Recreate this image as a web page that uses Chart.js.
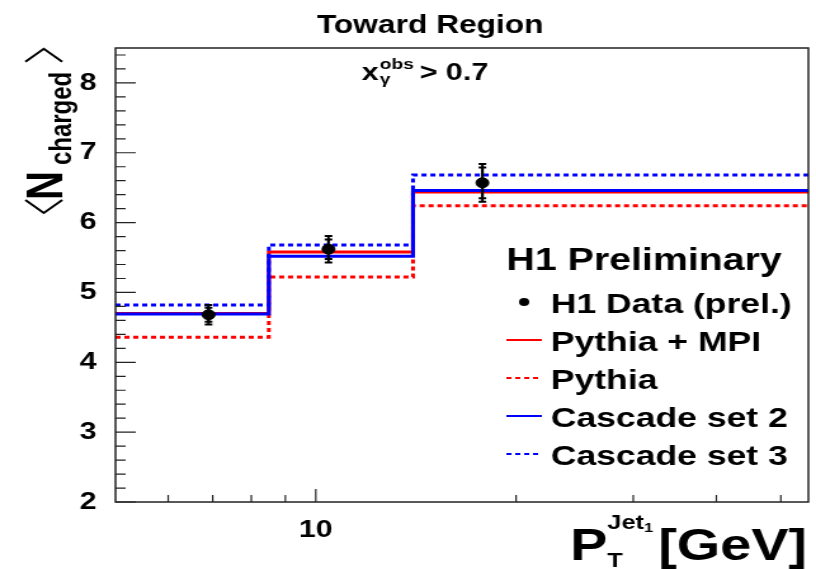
<!DOCTYPE html>
<html>
<head>
<meta charset="utf-8">
<script src="https://cdn.jsdelivr.net/npm/chart.js@4.4.0/dist/chart.umd.min.js"></script>
<style>
  html, body { margin: 0; padding: 0; background: #fff; overflow: hidden; }
  #plot { display: block; }
</style>
</head>
<body>
<!-- the original picture is stretched sideways, so the canvas is drawn narrow and widened by css -->
<canvas id="plot" width="643" height="569" style="width:816px;height:569px"></canvas>
<script>
// Toward Region, x_gamma^obs > 0.7
const binEdges = [5, 8.5, 14, 55];           // P_T^Jet1 bins [GeV]
const dataX = [6.9, 10.45, 17.8];            // mean P_T in bin
const dataY = [4.68, 5.62, 6.57];            // H1 data (prel.)
const statErr = [0.10, 0.14, 0.22];
const totErr = [0.14, 0.19, 0.27];
const pythiaMpi = [4.70, 5.58, 6.44];
const pythia = [4.36, 5.22, 6.24];
const cascade2 = [4.69, 5.52, 6.46];
const cascade3 = [4.82, 5.68, 6.68];

const yTicks = [2, 3, 4, 5, 6, 7, 8];
const xTicks = [6, 7, 8, 9, 10, 20, 30, 40, 50];
const xTickLabels = ['', '', '', '', '10', '', '', '', ''];

const legendLabels = ['H1 Data (prel.)', 'Pythia + MPI', 'Pythia', 'Cascade set 2', 'Cascade set 3'];

const RED = '#ff0000';
const BLUE = '#0000ff';
const FONT = '"Liberation Sans", Arial, Helvetica, sans-serif';
const font = size => `bold ${size}px ${FONT}`;

// histogram -> points at bin edges, last value repeated at the upper edge
function histPoints(values) {
  const pts = values.map((v, i) => ({ x: binEdges[i], y: v }));
  pts.push({ x: binEdges[binEdges.length - 1], y: values[values.length - 1] });
  return pts;
}

function histSet(label, values, color, dashed, order) {
  return {
    label: label,
    data: histPoints(values),
    borderColor: color,
    borderWidth: 3,
    borderDash: dashed ? [4, 3] : [],
    stepped: true,
    pointRadius: 0,
    fill: false,
    order: order
  };
}

const rootStyle = {
  id: 'rootStyle',
  afterDatasetsDraw(chart) {
    const { ctx, scales: { x, y } } = chart;
    ctx.save();
    ctx.strokeStyle = '#000';
    ctx.lineWidth = 2;
    dataX.forEach((xv, i) => {
      const px = x.getPixelForValue(xv);
      [totErr[i], statErr[i]].forEach(e => {
        const top = y.getPixelForValue(dataY[i] + e);
        const bot = y.getPixelForValue(dataY[i] - e);
        ctx.beginPath();
        ctx.moveTo(px, top); ctx.lineTo(px, bot);
        ctx.moveTo(px - 3, top); ctx.lineTo(px + 3, top);
        ctx.moveTo(px - 3, bot); ctx.lineTo(px + 3, bot);
        ctx.stroke();
      });
    });
    ctx.restore();
  },
  afterDraw(chart) {
    const { ctx, chartArea: a, scales: { x, y } } = chart;
    ctx.save();

    // frame
    ctx.strokeStyle = '#222';
    ctx.lineWidth = 1.5;
    ctx.strokeRect(a.left, a.top, a.right - a.left, a.bottom - a.top);

    // inward ticks, y
    ctx.lineWidth = 1.2;
    ctx.beginPath();
    for (let v = 2; v <= 8.5 + 1e-9; v += 0.2) {
      const py = y.getPixelForValue(v);
      const major = Math.abs(v - Math.round(v)) < 1e-6;
      ctx.moveTo(a.left, py);
      ctx.lineTo(a.left + (major ? 16 : 8), py);
    }
    // inward ticks, x
    xTicks.forEach(v => {
      const px = x.getPixelForValue(v);
      ctx.moveTo(px, a.bottom);
      ctx.lineTo(px, a.bottom - (v === 10 ? 13 : 7));
    });
    ctx.stroke();

    ctx.fillStyle = '#000';
    ctx.textBaseline = 'alphabetic';

    // title
    ctx.font = font(25);
    ctx.textAlign = 'center';
    ctx.fillText('Toward Region', 339, 33);
    ctx.textAlign = 'left';

    // x_gamma^obs > 0.7
    let sx = 285;
    ctx.font = font(24);
    ctx.fillText('x', sx, 80);
    sx += ctx.measureText('x').width + 1;
    ctx.font = font(15);
    ctx.fillText('obs', sx, 69);
    ctx.fillText('\u03b3', sx, 84);
    sx += ctx.measureText('obs').width;
    ctx.font = font(24);
    ctx.fillText(' > 0.7', sx - 2, 80);

    // y title  <N_charged>
    ctx.save();
    ctx.translate(49, 215);
    ctx.rotate(-Math.PI / 2);
    ctx.lineWidth = 2;
    ctx.strokeStyle = '#000';
    ctx.beginPath();
    ctx.moveTo(15, -29); ctx.lineTo(2, -14.5); ctx.lineTo(15, 0);
    ctx.stroke();
    ctx.font = font(40);
    ctx.fillText('N', 15, 0);
    const wN = ctx.measureText('N').width;
    ctx.font = font(24);
    ctx.fillText('charged', 15 + wN + 6, 7);
    const xe = 15 + wN + 6 + ctx.measureText('charged').width + 10;
    ctx.beginPath();
    ctx.moveTo(xe, -29); ctx.lineTo(xe + 13, -14.5); ctx.lineTo(xe, 0);
    ctx.stroke();
    ctx.restore();

    // x title  P_T^{Jet_1} [GeV]
    ctx.font = font(44);
    const wP = ctx.measureText('P').width;
    const wRest = ctx.measureText('[GeV]').width;
    ctx.font = font(20);
    const wT = ctx.measureText('T').width;
    const wJet = ctx.measureText('Jet').width;
    ctx.font = font(13);
    const w1 = ctx.measureText('1').width;
    const wScr = Math.max(wT, wJet + w1) + 4;
    const x0 = 636 - (wP + wScr + wRest);
    const base = 560;
    ctx.font = font(44);
    ctx.fillText('P', x0, base);
    ctx.fillText('[GeV]', x0 + wP + wScr, base);
    ctx.font = font(20);
    ctx.fillText('T', x0 + wP, base + 7);
    ctx.fillText('Jet', x0 + wP, base - 31);
    ctx.font = font(13);
    ctx.fillText('1', x0 + wP + wJet, base - 28);

    // legend
    ctx.font = font(31);
    ctx.fillText('H1 Preliminary', 399, 270);
    const styles = [null, [RED, []], [RED, [4, 3]], [BLUE, []], [BLUE, [4, 3]]];
    legendLabels.forEach((lab, i) => {
      const base = 313 + 38 * i;
      const ly = base - 11;
      if (styles[i] === null) {
        ctx.beginPath();
        ctx.arc(413, ly, 4, 0, Math.PI * 2);
        ctx.fill();
      } else {
        ctx.strokeStyle = styles[i][0];
        ctx.setLineDash(styles[i][1]);
        ctx.lineWidth = 2;
        ctx.beginPath();
        ctx.moveTo(399, ly); ctx.lineTo(427, ly);
        ctx.stroke();
        ctx.setLineDash([]);
      }
      ctx.font = font(28);
      ctx.fillText(lab, 434, base);
    });

    ctx.restore();
  }
};

new Chart(document.getElementById('plot'), {
  type: 'line',
  data: {
    datasets: [
      {
        label: legendLabels[0],
        data: dataX.map((v, i) => ({ x: v, y: dataY[i] })),
        showLine: false,
        pointRadius: 5,
        pointBackgroundColor: '#000',
        pointBorderColor: '#000',
        order: 0
      },
      histSet(legendLabels[3], cascade2, BLUE, false, 1),
      histSet(legendLabels[4], cascade3, BLUE, true, 2),
      histSet(legendLabels[1], pythiaMpi, RED, false, 3),
      histSet(legendLabels[2], pythia, RED, true, 4)
    ]
  },
  options: {
    responsive: false,
    devicePixelRatio: 1,
    animation: false,
    layout: { padding: { top: 48, right: 4, left: 0, bottom: 0 } },
    plugins: {
      legend: { display: false },
      tooltip: { enabled: false }
    },
    scales: {
      x: {
        type: 'logarithmic',
        min: 5,
        max: 55,
        grid: { display: false },
        border: { display: false },
        afterBuildTicks: s => { s.ticks = xTicks.map(v => ({ value: v })); },
        afterFit: s => { s.height = 67; },
        ticks: {
          autoSkip: false,
          maxRotation: 0,
          padding: 6,
          color: '#000',
          font: { family: FONT, size: 24, weight: 'bold' },
          callback: (v, i) => xTickLabels[i]
        }
      },
      y: {
        min: 2,
        max: 8.5,
        grid: { display: false },
        border: { display: false },
        afterBuildTicks: s => { s.ticks = yTicks.map(v => ({ value: v })); },
        afterFit: s => { s.width = 91; },
        ticks: {
          padding: 7,
          color: '#000',
          font: { family: FONT, size: 24, weight: 'bold' },
          callback: v => String(v)
        }
      }
    }
  },
  plugins: [rootStyle]
});
</script>
</body>
</html>
